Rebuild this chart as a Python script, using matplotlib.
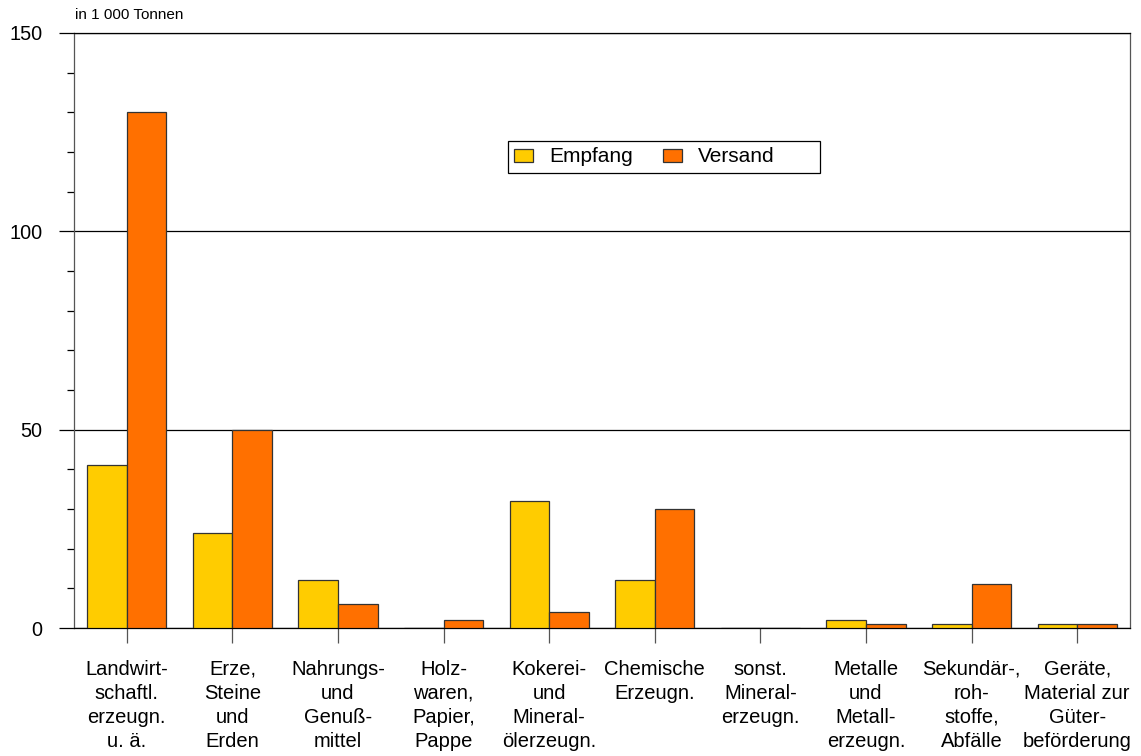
import numpy as np
import matplotlib.pyplot as plt
from matplotlib.ticker import MultipleLocator
from matplotlib.patches import Rectangle

plt.rcParams['font.family'] = ['Liberation Sans', 'DejaVu Sans']

kategorien = [
    'Landwirt-\nschaftl.\nerzeugn.\nu. ä.',
    'Erze,\nSteine\nund\nErden',
    'Nahrungs-\nund\nGenuß-\nmittel',
    'Holz-\nwaren,\nPapier,\nPappe',
    'Kokerei-\nund\nMineral-\nölerzeugn.',
    'Chemische\nErzeugn.',
    'sonst.\nMineral-\nerzeugn.',
    'Metalle\nund\nMetall-\nerzeugn.',
    'Sekundär-,\nroh-\nstoffe,\nAbfälle',
    'Geräte,\nMaterial zur\nGüter-\nbeförderung',
]
empfang = [41, 24, 12, 0, 32, 12, 0, 2, 1, 1]
versand = [130, 50, 6, 2, 4, 30, 0, 1, 11, 1]

x = np.arange(len(kategorien))
w = 0.375

fig = plt.figure(figsize=(11.41, 7.56), dpi=100)
ax = fig.add_axes([74 / 1141, 1 - 628 / 756, 1056 / 1141, 595 / 756])

ax.bar(x - w / 2, empfang, w, color='#FFCC00', edgecolor='#333333', linewidth=0.9,
       label='Empfang', zorder=3)
ax.bar(x + w / 2, versand, w, color='#FF7000', edgecolor='#333333', linewidth=0.9,
       label='Versand', zorder=3)

ax.set_xlim(-0.5, len(kategorien) - 0.5)
ax.set_ylim(0, 150)
ax.yaxis.set_major_locator(MultipleLocator(50))
ax.yaxis.set_minor_locator(MultipleLocator(10))
ax.grid(axis='y', which='major', color='black', linewidth=0.9, zorder=1)

ax.set_xticks(x)
ax.set_xticklabels(kategorien, fontsize=14.5, linespacing=1.34)
ax.tick_params(axis='x', length=10.8, width=0.9, color='#555555', pad=12)
ax.tick_params(axis='y', which='major', length=10.8, width=0.9, labelsize=14.3, pad=12)
ax.tick_params(axis='y', which='minor', length=5, width=0.9)

for side in ['left', 'right', 'top', 'bottom']:
    ax.spines[side].set_linewidth(0.9)
ax.spines['left'].set_color('#555555')
ax.spines['right'].set_color('#555555')

ax.text(75 / 1141, 1 - 15 / 756, 'in 1 000 Tonnen', transform=fig.transFigure,
        fontsize=11, ha='left', va='center')

# Legendenrahmen etwas breiter als der Inhalt, wie im Original
ax.add_patch(Rectangle((0.411, 0.7647), 0.2954, 0.0538, transform=ax.transAxes,
                       facecolor='white', edgecolor='black', linewidth=0.9, zorder=4))
leg = ax.legend(loc='center left', bbox_to_anchor=(0.4167, 0.7916), ncol=2, fontsize=15,
                frameon=False, handlelength=0.91, handleheight=0.58, columnspacing=1.44,
                borderpad=0, handletextpad=0.77, borderaxespad=0)
leg.set_zorder(5)

fig.savefig('out.png', dpi=100)
